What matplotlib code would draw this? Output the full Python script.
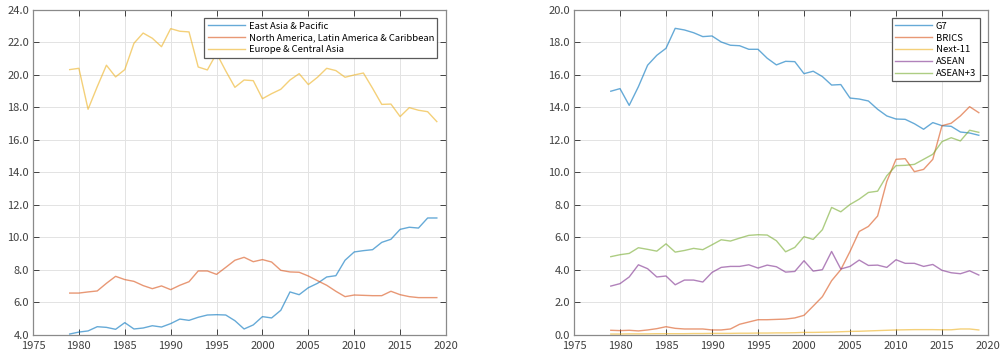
import numpy as np
import matplotlib.pyplot as plt

plt.rcParams['font.family'] = ['Noto Sans CJK JP', 'DejaVu Sans']
plt.rcParams['font.size'] = 8

years = np.arange(1979, 2020)

# Left panel: regional shares (%)
east_asia = [4.06, 4.18, 4.25, 4.51, 4.47, 4.35, 4.76, 4.37, 4.43, 4.57,
             4.49, 4.70, 4.98, 4.90, 5.09, 5.23, 5.25, 5.23, 4.88, 4.37,
             4.62, 5.13, 5.05, 5.52, 6.65, 6.48, 6.91, 7.18, 7.57, 7.65,
             8.60, 9.11, 9.19, 9.25, 9.70, 9.89, 10.50, 10.63, 10.58, 11.20,
             11.20]
americas = [6.58, 6.58, 6.65, 6.71, 7.18, 7.61, 7.41, 7.30, 7.04, 6.85,
            7.02, 6.79, 7.06, 7.28, 7.94, 7.94, 7.73, 8.16, 8.60, 8.78,
            8.51, 8.64, 8.49, 7.98, 7.88, 7.86, 7.63, 7.34, 7.06, 6.69,
            6.36, 6.46, 6.44, 6.42, 6.42, 6.69, 6.48, 6.36, 6.30, 6.30,
            6.30]
europe = [20.33, 20.41, 17.89, 19.28, 20.60, 19.88, 20.33, 21.95, 22.58, 22.26,
          21.74, 22.85, 22.69, 22.65, 20.49, 20.31, 21.33, 20.25, 19.24, 19.69,
          19.65, 18.54, 18.85, 19.12, 19.69, 20.08, 19.41, 19.86, 20.41, 20.27,
          19.86, 20.00, 20.12, 19.18, 18.19, 18.21, 17.44, 17.99, 17.83, 17.74,
          17.13]

# Right panel: country groups (%)
g7 = [15.00, 15.16, 14.13, 15.28, 16.60, 17.21, 17.64, 18.87, 18.77, 18.60,
      18.36, 18.40, 18.03, 17.83, 17.80, 17.58, 17.58, 17.03, 16.62, 16.84,
      16.82, 16.08, 16.23, 15.90, 15.38, 15.41, 14.58, 14.52, 14.40, 13.89,
      13.48, 13.29, 13.27, 13.00, 12.66, 13.07, 12.88, 12.84, 12.49, 12.43,
      12.29]
brics = [0.29, 0.27, 0.29, 0.25, 0.31, 0.39, 0.51, 0.41, 0.37, 0.37,
         0.37, 0.31, 0.31, 0.37, 0.66, 0.80, 0.94, 0.94, 0.96, 0.98,
         1.05, 1.21, 1.78, 2.36, 3.34, 4.02, 5.14, 6.37, 6.68, 7.32,
         9.45, 10.81, 10.85, 10.05, 10.19, 10.81, 12.88, 13.03, 13.48, 14.05,
         13.68]
next11 = [0.06, 0.06, 0.07, 0.07, 0.07, 0.08, 0.08, 0.08, 0.08, 0.09,
          0.09, 0.10, 0.10, 0.10, 0.11, 0.11, 0.12, 0.12, 0.13, 0.13,
          0.14, 0.16, 0.16, 0.17, 0.18, 0.20, 0.22, 0.23, 0.25, 0.27,
          0.29, 0.31, 0.32, 0.33, 0.33, 0.33, 0.32, 0.32, 0.37, 0.37,
          0.31]
asean = [3.01, 3.16, 3.57, 4.32, 4.08, 3.57, 3.63, 3.09, 3.38, 3.38,
         3.26, 3.85, 4.16, 4.22, 4.22, 4.32, 4.12, 4.30, 4.20, 3.87,
         3.91, 4.57, 3.93, 4.02, 5.14, 4.06, 4.22, 4.61, 4.28, 4.30,
         4.16, 4.63, 4.41, 4.41, 4.22, 4.34, 3.98, 3.83, 3.77, 3.95,
         3.69]
asean3 = [4.82, 4.94, 5.02, 5.37, 5.27, 5.16, 5.61, 5.10, 5.20, 5.33,
          5.25, 5.55, 5.86, 5.78, 5.96, 6.13, 6.17, 6.15, 5.80, 5.12,
          5.39, 6.05, 5.88, 6.48, 7.85, 7.58, 8.03, 8.36, 8.77, 8.85,
          9.80, 10.42, 10.44, 10.50, 10.81, 11.12, 11.90, 12.14, 11.94, 12.60,
          12.47]

left_series = [east_asia, americas, europe]
left_labels = ['East Asia & Pacific',
               'North America, Latin America & Caribbean',
               'Europe & Central Asia']
right_series = [g7, brics, next11, asean, asean3]
right_labels = ['G7', 'BRICS', 'Next-11', 'ASEAN', 'ASEAN+3']

colors = ['#0072BD', '#D95319', '#EDB120', '#7E2F8E', '#77AC30']

fig = plt.figure(figsize=(10, 3.56), dpi=100)
ax1 = fig.add_axes([0.033, 0.059, 0.413, 0.913])
ax2 = fig.add_axes([0.574, 0.059, 0.414, 0.913])


def style(ax, ymin, ymax):
    ax.set_xlim(1975, 2020)
    ax.set_ylim(ymin, ymax)
    ax.set_xticks(np.arange(1975, 2021, 5))
    ax.set_yticks(np.arange(ymin, ymax + 0.1, 2))
    ax.yaxis.set_major_formatter(plt.FormatStrFormatter('%.1f'))
    ax.grid(True, color='#e3e3e3', lw=0.7)
    ax.set_axisbelow(True)
    ax.tick_params(direction='in', length=4, width=0.7, colors='#404040',
                   top=True, right=True, labelsize=8)
    ax.tick_params(axis='x', pad=4.5)
    ax.tick_params(axis='y', pad=3)
    for s in ax.spines.values():
        s.set_color('#8a8a8a')
        s.set_linewidth(0.9)


for ax, series, labels, (lo, hi) in [(ax1, left_series, left_labels, (4, 24)),
                                     (ax2, right_series, right_labels, (0, 20))]:
    for vals, lab, c in zip(series, labels, colors):
        ax.plot(years, vals, color=c, alpha=0.6, lw=1.0, label=lab)
    style(ax, lo, hi)
    leg = ax.legend(loc='upper right', fancybox=False, framealpha=1,
                    edgecolor='#5a5a5a', fontsize=6.8, handlelength=3.9,
                    handletextpad=0.45, labelspacing=0.3, borderpad=0.35,
                    borderaxespad=0.9)
    leg.get_frame().set_linewidth(0.9)

fig.savefig('out.png', dpi=100)
